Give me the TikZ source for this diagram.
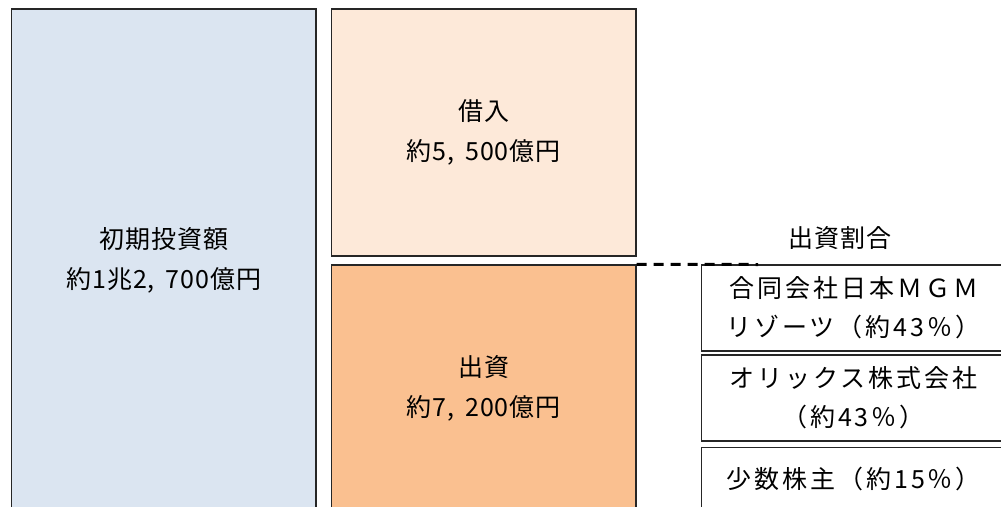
\documentclass[tikz,border=0pt]{standalone}
\usepackage{fontspec}
\setmainfont{Noto Sans CJK JP}[LetterSpace=4]
\newfontfamily\rfont[LetterSpace=12]{Noto Sans CJK JP}
\definecolor{leftblue}{HTML}{DBE5F1}
\definecolor{lightor}{HTML}{FDE9D9}
\definecolor{darkor}{HTML}{FAC090}
\begin{document}
\begin{tikzpicture}[x=1pt,y=-1pt,
  box/.style={draw=black!85, line width=1.3pt, rectangle, inner sep=0pt, align=center,
    font=\fontsize{25}{40}\selectfont},
  rbox/.style={box, font=\rfont\fontsize{25}{39}\selectfont},
  lbl/.style={inner sep=0pt, font=\fontsize{25}{40}\selectfont}]
\useasboundingbox (0,0) rectangle (1001,506);
\clip (0,0) rectangle (1001,506);
\node[box, fill=leftblue, minimum width=304.5pt, minimum height=502pt] (total) at (163.75,260)
  {初期投資額\\約1兆2,\,~700億円};
\node[box, fill=lightor, minimum width=304.5pt, minimum height=247pt] (loan) at (483.75,132.5)
  {借入\\約5,\,~500億円};
\node[box, fill=darkor, minimum width=304.5pt, minimum height=246pt] (equity) at (483.75,388)
  {出資\\約7,\,~200億円};
\node[lbl] (ratio) at (840,238) {出資割合};
\node[rbox, minimum width=304pt, minimum height=86pt] (mgm) at (853.5,308)
  {合同会社日本ＭＧＭ\\リゾーツ（約43％）};
\node[rbox, minimum width=304pt, minimum height=86pt] (orix) at (853.5,398)
  {オリックス株式会社\\（約43％）};
\node[rbox, minimum width=304pt, minimum height=62pt] (minor) at (853.5,478.5)
  {少数株主（約15％）};
\coordinate (dashend) at (758,264.5);
\draw[line width=3pt, dash pattern=on 10pt off 7pt] (equity.north east) -- (dashend);
\end{tikzpicture}
\end{document}
